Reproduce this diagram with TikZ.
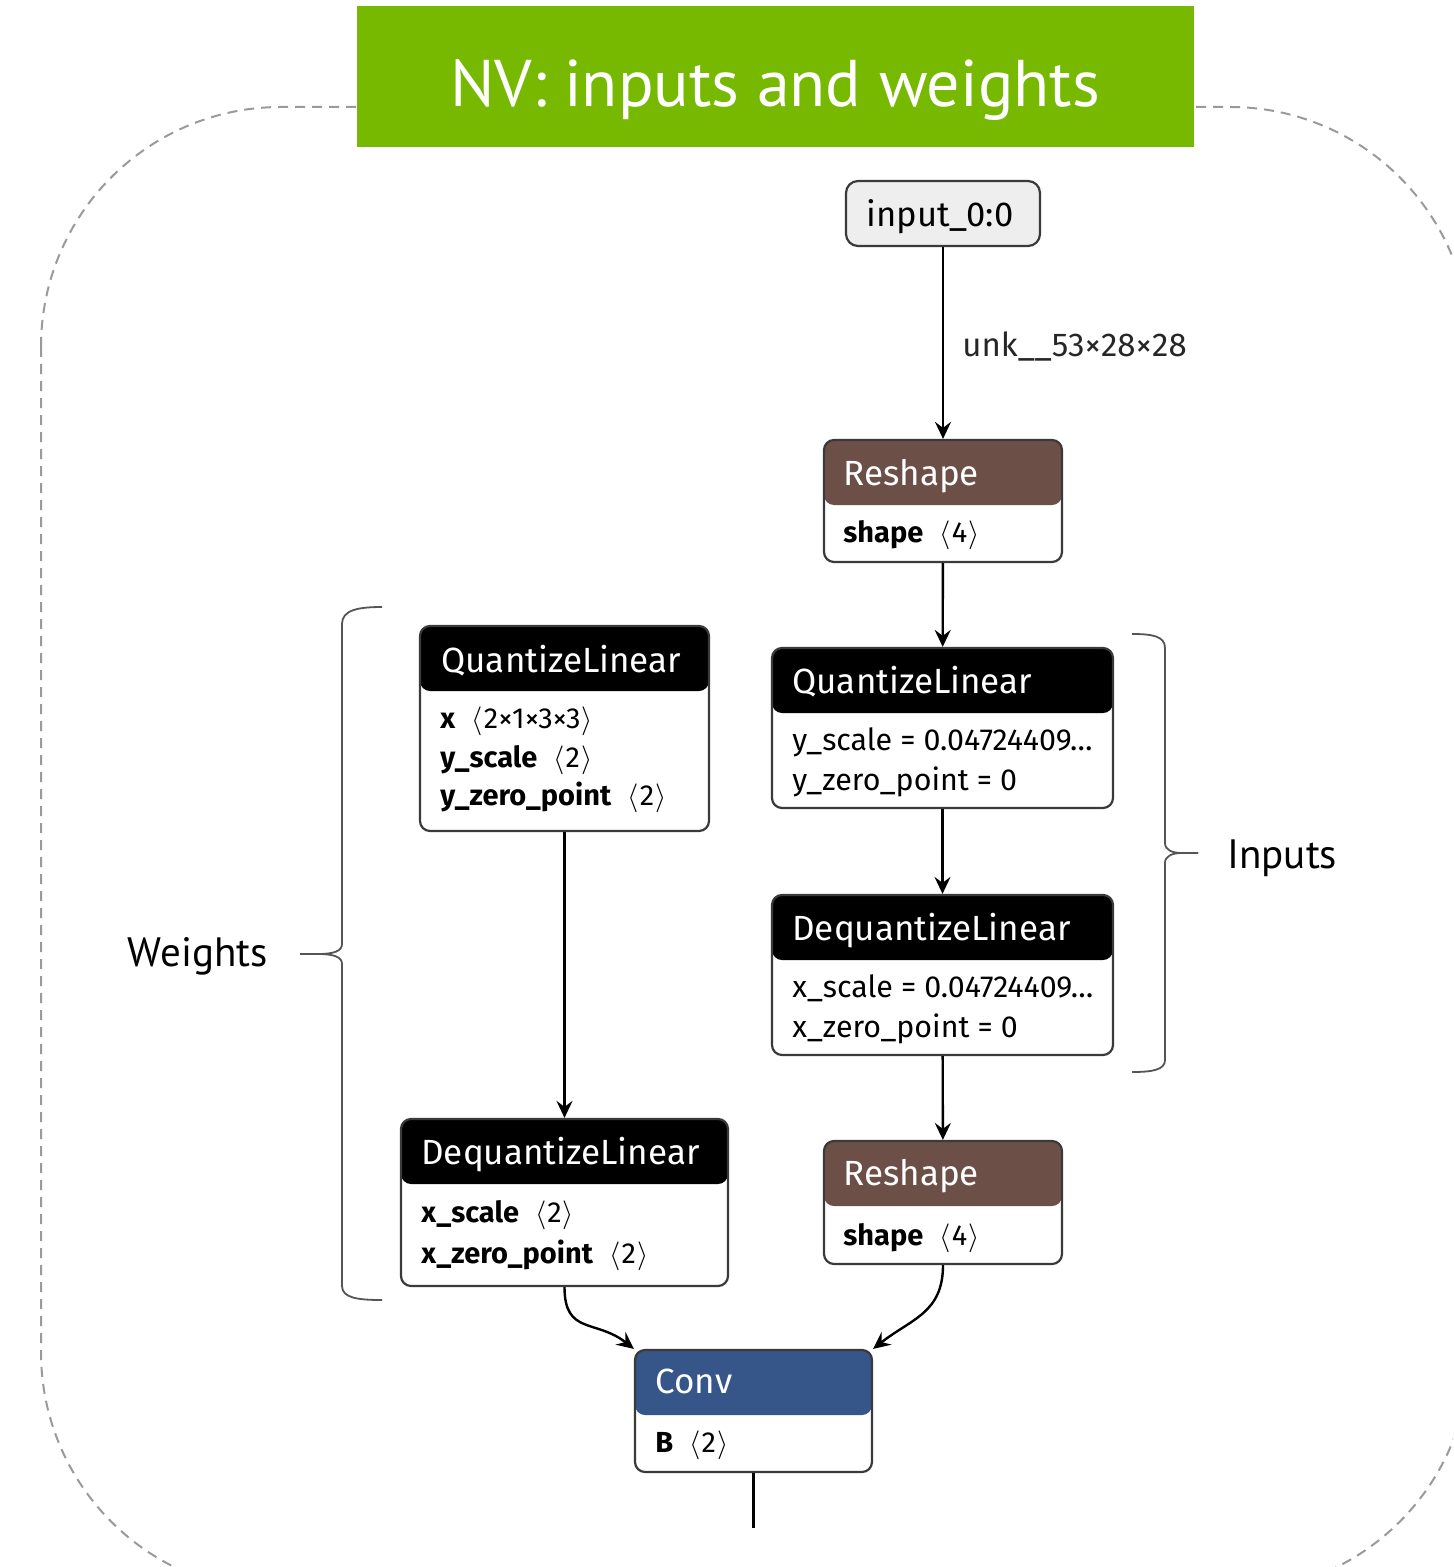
\documentclass[tikz,border=0pt]{standalone}
\usepackage{fontspec}
\setmainfont{Fira Sans}
\newfontfamily\titlefont{PT Sans}
\usetikzlibrary{arrows.meta}

\definecolor{nvgreen}{HTML}{76B900}
\definecolor{reshapebrown}{HTML}{6C4F47}
\definecolor{convblue}{HTML}{365588}
\definecolor{inputgray}{HTML}{EEEEEE}
\definecolor{framegray}{HTML}{9A9A9A}
\definecolor{bordergray}{HTML}{3A3A3A}
\definecolor{bracegray}{HTML}{555555}

\newcommand{\shp}[1]{\hspace{8pt}\ensuremath{\langle}\hspace{0.6pt}#1\hspace{0.6pt}\ensuremath{\rangle}}

\begin{document}
\begin{tikzpicture}[x=0.5pt,y=-0.5pt,
  opbox/.style={draw=bordergray, line width=1.1pt, rounded corners=5pt,
    fill=white, inner sep=0pt,
    path picture={\fill[#1] (path picture bounding box.north west)
      rectangle ([yshift=-32.5pt]path picture bounding box.north east);}},
  inbox/.style={draw=bordergray, line width=1.1pt, rounded corners=6pt,
    fill=inputgray, inner sep=0pt, font=\fontsize{17}{20}\selectfont},
  hdr/.style={anchor=base west, inner sep=0pt, text=white,
    font=\fontsize{17.5}{20}\selectfont},
  attr/.style={anchor=base west, inner sep=0pt, text=black,
    font=\fontsize{14.5}{17}\selectfont},
  valattr/.style={attr, font=\fontsize{15.2}{17}\selectfont},
  flow/.style={line width=1.2pt, -{Stealth[length=8.5pt,width=8pt,inset=3pt]}},
  brace/.style={draw=bracegray, line width=0.9pt},
  sidelabel/.style={inner sep=0pt, font=\titlefont\fontsize{20.5}{24}\selectfont}]

\useasboundingbox (0,0) rectangle (1453,1567);
\clip (0,0) rectangle (1453,1567);

% dashed frame around the graph
\draw[framegray, line width=1pt, dash pattern=on 5pt off 3.5pt, rounded corners=120pt]
  (41,107) rectangle (1470,1592);

% title banner
\node[fill=nvgreen, minimum width=418.5pt, minimum height=70.5pt, inner sep=0pt]
  (title) at (775.5,76.5) {};
\node[anchor=base, inner sep=0pt, text=white, font=\titlefont\fontsize{33}{36}\selectfont]
  (titletext) at (775,107) {NV: inputs and weights};

% graph nodes
\node[inbox, minimum width=97pt, minimum height=32.5pt] (input) at (943,213.5) {};
\node[inner sep=0pt, anchor=base, font=\fontsize{17.3}{20}\selectfont] (inputt) at (940,227) {input\_0:0};

\node[opbox=reshapebrown, minimum width=119pt, minimum height=61pt] (rs1) at (943,501) {};
\node[hdr] (rs1h) at (843,485) {Reshape};
\node[attr] (rs1a) at (843,542) {\textbf{shape}\shp{4}};

\node[opbox=black, minimum width=144.5pt, minimum height=102.5pt] (qw) at (564.5,728.5) {};
\node[hdr] (qwh) at (441,672) {QuantizeLinear};
\node[attr] (qwa) at (440,728) {\textbf{x}\shp{2×1×3×3}};
\node[attr] (qwb) at (440,767) {\textbf{y\_scale}\shp{2}};
\node[attr] (qwc) at (440,805) {\textbf{y\_zero\_point}\shp{2}};

\node[opbox=black, minimum width=170.5pt, minimum height=80pt] (qi) at (942.5,728) {};
\node[hdr] (qih) at (792,693) {QuantizeLinear};
\node[valattr] (qia) at (792,750) {y\_scale = 0.04724409…};
\node[valattr] (qib) at (792,790) {y\_zero\_point = 0};

\node[opbox=black, minimum width=170.5pt, minimum height=80pt] (dqi) at (942.5,975) {};
\node[hdr] (dqih) at (792,940) {DequantizeLinear};
\node[valattr] (dqia) at (792,997) {x\_scale = 0.04724409…};
\node[valattr] (dqib) at (792,1037) {x\_zero\_point = 0};

\node[opbox=black, minimum width=163.5pt, minimum height=83.5pt] (dqw) at (564.5,1202.5) {};
\node[hdr] (dqwh) at (421,1164) {DequantizeLinear};
\node[attr] (dqwa) at (421,1222) {\textbf{x\_scale}\shp{2}};
\node[attr] (dqwb) at (421,1263) {\textbf{x\_zero\_point}\shp{2}};

\node[opbox=reshapebrown, minimum width=119pt, minimum height=61.5pt] (rs2) at (943,1202.5) {};
\node[hdr] (rs2h) at (843,1185) {Reshape};
\node[attr] (rs2a) at (843,1245) {\textbf{shape}\shp{4}};

\node[opbox=convblue, minimum width=118.5pt, minimum height=61pt] (conv) at (753.5,1411) {};
\node[hdr] (convh) at (655,1393) {Conv};
\node[attr] (conva) at (655,1452) {\textbf{B}\shp{2}};

\coordinate (convout) at (753.5,1528);

% connectors
\draw[flow] (input) -- (rs1);
\node[anchor=base west, inner sep=0pt, text=black!85, font=\fontsize{16.5}{19}\selectfont]
  (shapelabel) at (962,357) {unk\_\_53×28×28};
\draw[flow] (rs1) -- (qi);
\draw[flow] (qi) -- (dqi);
\draw[flow] (dqi) -- (rs2);
\draw[flow] (qw) -- (dqw);
\draw[flow] (dqw.south) .. controls +(0,48) and +(-38,-30) .. (conv.north west);
\draw[flow] (rs2.south) .. controls +(0,48) and +(38,-30) .. (conv.north east);
\draw[line width=1.2pt] (conv.south) -- (convout);

% brace grouping the weight path
\draw[brace] (382,607) .. controls (358,607) and (342,610) .. (342,624)
  -- (342,944) .. controls (342,951) and (334,954) .. (318,954) -- (300,954);
\draw[brace] (300,954) -- (318,954) .. controls (334,954) and (342,957) .. (342,964)
  -- (342,1286) .. controls (342,1298) and (358,1300) .. (382,1300);
\node[sidelabel, anchor=base east] (weights) at (268,966) {Weights};

% brace grouping the input path
\draw[brace] (1132,634) .. controls (1152,634) and (1165,636) .. (1165,648)
  -- (1165,843) .. controls (1165,850) and (1172,853) .. (1182,853) -- (1198,853);
\draw[brace] (1198,853) -- (1182,853) .. controls (1172,853) and (1165,856) .. (1165,863)
  -- (1165,1060) .. controls (1165,1070) and (1152,1072) .. (1132,1072);
\node[sidelabel, anchor=base west] (inputs) at (1227,868) {Inputs};

\end{tikzpicture}
\end{document}
